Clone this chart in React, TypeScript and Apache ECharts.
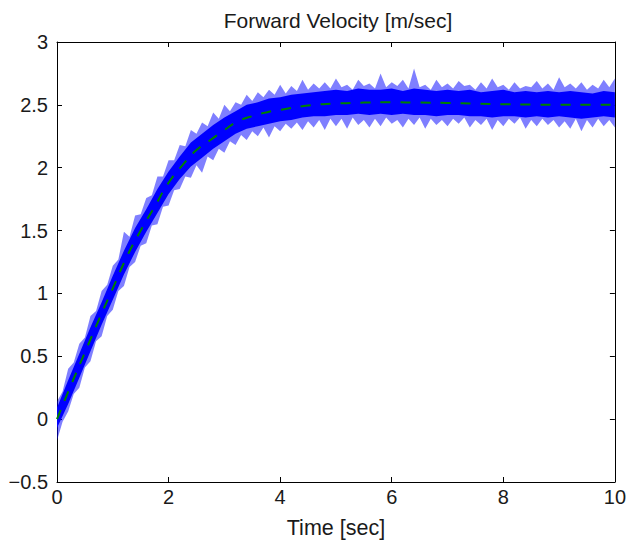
import React, { useEffect, useRef } from "react";
import * as echarts from "echarts";

// ---- data ----
const titleText = "Forward Velocity [m/sec]";
const xAxisName = "Time [sec]";

// smooth reference response (green dashed)
const refTime = [0, 0.25, 0.5, 0.75, 1.0, 1.25, 1.5, 1.75, 2.0, 2.25, 2.5, 2.75, 3.0, 3.25, 3.5, 3.75, 4.0, 4.5, 5.0, 5.5, 6.0, 6.5, 7.0, 7.5, 8.0, 8.5, 9.0, 9.5, 10.0];
const refVel = [0, 0.27, 0.53, 0.79, 1.04, 1.29, 1.5, 1.69, 1.88, 2.02, 2.14, 2.22, 2.3, 2.37, 2.41, 2.44, 2.46, 2.495, 2.51, 2.518, 2.52, 2.518, 2.515, 2.51, 2.505, 2.503, 2.5, 2.5, 2.5];

// noisy measured velocity (blue): envelopes read every 0.2 s ...
const envTime = [0, 0.2, 0.4, 0.6, 0.8, 1.0, 1.2, 1.4, 1.6, 1.8, 2.0, 2.2, 2.4, 2.6, 2.8, 3.0, 3.2, 3.4, 3.6, 3.8, 4.0, 4.2, 4.4, 4.6, 4.8, 5.0, 5.2, 5.4, 5.6, 5.8, 6.0, 6.2, 6.4, 6.6, 6.8, 7.0, 7.2, 7.4, 7.6, 7.8, 8.0, 8.2, 8.4, 8.6, 8.8, 9.0, 9.2, 9.4, 9.6, 9.8, 10.0];
const spikeUpper = [0.14, 0.4, 0.6, 0.82, 1.02, 1.22, 1.49, 1.62, 1.76, 1.93, 2.06, 2.18, 2.3, 2.36, 2.44, 2.5, 2.52, 2.58, 2.6, 2.62, 2.66, 2.65, 2.7, 2.67, 2.68, 2.71, 2.66, 2.7, 2.67, 2.75, 2.68, 2.7, 2.79, 2.66, 2.7, 2.67, 2.69, 2.66, 2.68, 2.71, 2.66, 2.68, 2.65, 2.69, 2.67, 2.72, 2.67, 2.68, 2.66, 2.7, 2.71];
const spikeLower = [-0.17, 0.06, 0.25, 0.46, 0.66, 0.87, 1.06, 1.25, 1.4, 1.55, 1.7, 1.83, 1.92, 1.96, 2.06, 2.12, 2.18, 2.22, 2.25, 2.24, 2.29, 2.31, 2.3, 2.32, 2.3, 2.33, 2.31, 2.34, 2.32, 2.33, 2.35, 2.32, 2.34, 2.31, 2.34, 2.33, 2.35, 2.32, 2.34, 2.3, 2.33, 2.35, 2.31, 2.33, 2.34, 2.32, 2.31, 2.29, 2.32, 2.33, 2.32];
// ... and in between (t = 0.1, 0.3, ..., 9.9), where the fringe dips
const midTime = [0.1, 0.3, 0.5, 0.7, 0.9, 1.1, 1.3, 1.5, 1.7, 1.9, 2.1, 2.3, 2.5, 2.7, 2.9, 3.1, 3.3, 3.5, 3.7, 3.9, 4.1, 4.3, 4.5, 4.7, 4.9, 5.1, 5.3, 5.5, 5.7, 5.9, 6.1, 6.3, 6.5, 6.7, 6.9, 7.1, 7.3, 7.5, 7.7, 7.9, 8.1, 8.3, 8.5, 8.7, 8.9, 9.1, 9.3, 9.5, 9.7, 9.9];
const midUpper = [0.22, 0.45, 0.65, 0.86, 1.07, 1.27, 1.45, 1.63, 1.78, 1.93, 2.06, 2.17, 2.27, 2.33, 2.39, 2.45, 2.5, 2.53, 2.56, 2.58, 2.59, 2.61, 2.62, 2.63, 2.63, 2.64, 2.62, 2.65, 2.63, 2.64, 2.65, 2.63, 2.64, 2.62, 2.64, 2.63, 2.65, 2.62, 2.63, 2.64, 2.62, 2.63, 2.64, 2.63, 2.62, 2.64, 2.63, 2.62, 2.63, 2.64];
const midLower = [-0.02, 0.2, 0.41, 0.62, 0.82, 1.02, 1.21, 1.38, 1.54, 1.69, 1.82, 1.93, 2.02, 2.09, 2.15, 2.21, 2.26, 2.29, 2.32, 2.33, 2.35, 2.36, 2.37, 2.38, 2.39, 2.39, 2.4, 2.38, 2.39, 2.4, 2.38, 2.39, 2.4, 2.39, 2.38, 2.39, 2.4, 2.38, 2.39, 2.38, 2.39, 2.4, 2.38, 2.39, 2.38, 2.37, 2.39, 2.38, 2.39, 2.38];
// dense core of the noise
const coreUpper = [0.09, 0.31, 0.52, 0.73, 0.93, 1.14, 1.34, 1.52, 1.67, 1.83, 1.97, 2.09, 2.2, 2.27, 2.34, 2.4, 2.45, 2.5, 2.52, 2.55, 2.56, 2.58, 2.59, 2.6, 2.61, 2.62, 2.61, 2.63, 2.62, 2.62, 2.63, 2.61, 2.63, 2.62, 2.61, 2.62, 2.61, 2.62, 2.6, 2.61, 2.62, 2.6, 2.61, 2.6, 2.61, 2.6, 2.61, 2.6, 2.59, 2.61, 2.6];
const coreLower = [-0.07, 0.12, 0.33, 0.54, 0.75, 0.95, 1.15, 1.33, 1.49, 1.64, 1.79, 1.91, 2.01, 2.08, 2.15, 2.21, 2.27, 2.31, 2.33, 2.35, 2.37, 2.38, 2.4, 2.41, 2.41, 2.42, 2.42, 2.43, 2.42, 2.43, 2.42, 2.43, 2.42, 2.42, 2.41, 2.42, 2.42, 2.41, 2.41, 2.4, 2.41, 2.41, 2.4, 2.41, 2.4, 2.41, 2.4, 2.39, 2.4, 2.41, 2.4];

const xTicks = { min: 0, max: 10, interval: 2 };
const yTicks = { min: -0.5, max: 3, interval: 0.5 };

const FONT = "'Liberation Sans', Arial, Helvetica, sans-serif";
const TEXT = "#1a1a1a";

// merge grid envelope with in-between readings, in time order
function interleave(a: number[], b: number[]): number[] {
  const out: number[] = [];
  for (let i = 0; i < a.length; i++) {
    out.push(a[i]);
    if (i < b.length) out.push(b[i]);
  }
  return out;
}
const fringeTime = interleave(envTime, midTime);
const fringeUpper = interleave(spikeUpper, midUpper);
const fringeLower = interleave(spikeLower, midLower);

function bandSeries(times: number[], upper: number[], lower: number[], color: string, z: number) {
  return {
    type: "custom",
    xAxisIndex: 0,
    yAxisIndex: 0,
    z,
    silent: true,
    data: [[0, 0]],
    renderItem: (_params: any, api: any) => {
      const pts: number[][] = [];
      for (let i = 0; i < times.length; i++) pts.push(api.coord([times[i], upper[i]]));
      for (let i = times.length - 1; i >= 0; i--) pts.push(api.coord([times[i], lower[i]]));
      return {
        type: "polygon",
        shape: { points: pts },
        style: { fill: color, stroke: null },
      };
    },
  };
}

export default function App() {
  const ref = useRef<HTMLDivElement>(null);
  useEffect(() => {
    if (!ref.current) return;
    const chart = echarts.init(ref.current, undefined, { renderer: "svg" });
    const axisCommon = {
      type: "value",
      axisLine: { show: true, onZero: false, lineStyle: { color: "#000", width: 1 } },
      axisTick: { show: true, inside: true, length: 5, lineStyle: { color: "#000", width: 1 } },
      splitLine: { show: false },
    };
    chart.setOption({
      animation: false,
      backgroundColor: "#fff",
      title: {
        text: titleText,
        left: 333,
        textAlign: "center",
        top: 5,
        textStyle: { fontFamily: FONT, fontSize: 21, fontWeight: "normal", color: TEXT },
      },
      grid: { left: 57, right: 14, top: 42, bottom: 61, containLabel: false },
      xAxis: [
        {
          ...axisCommon,
          ...xTicks,
          position: "bottom",
          axisLabel: { fontFamily: FONT, fontSize: 20, color: TEXT, margin: 5 },
          name: xAxisName,
          nameLocation: "middle",
          nameGap: 35,
          nameTextStyle: { fontFamily: FONT, fontSize: 21.5, color: TEXT },
        },
        { ...axisCommon, ...xTicks, position: "top", axisLabel: { show: false } },
      ],
      yAxis: [
        {
          ...axisCommon,
          ...yTicks,
          position: "left",
          axisLabel: {
            fontFamily: FONT,
            fontSize: 20,
            color: TEXT,
            margin: 9,
            formatter: (v: number) => String(v).replace("-", "\u2212"),
          },
        },
        { ...axisCommon, ...yTicks, position: "right", axisLabel: { show: false } },
      ],
      series: [
        bandSeries(fringeTime, fringeUpper, fringeLower, "rgba(0,0,255,0.5)", 2),
        bandSeries(envTime, coreUpper, coreLower, "#0000ff", 3),
        {
          type: "line",
          xAxisIndex: 0,
          yAxisIndex: 0,
          z: 5,
          data: refTime.map((t, i) => [t, refVel[i]]),
          smooth: true,
          symbol: "none",
          lineStyle: { color: "#008000", width: 2, type: [10, 10] },
        },
      ],
    });
    return () => chart.dispose();
  }, []);
  return (
    <div
      ref={ref}
      style={{ position: "fixed", left: 0, top: 0, width: 629, height: 544, background: "#fff" }}
    />
  );
}
